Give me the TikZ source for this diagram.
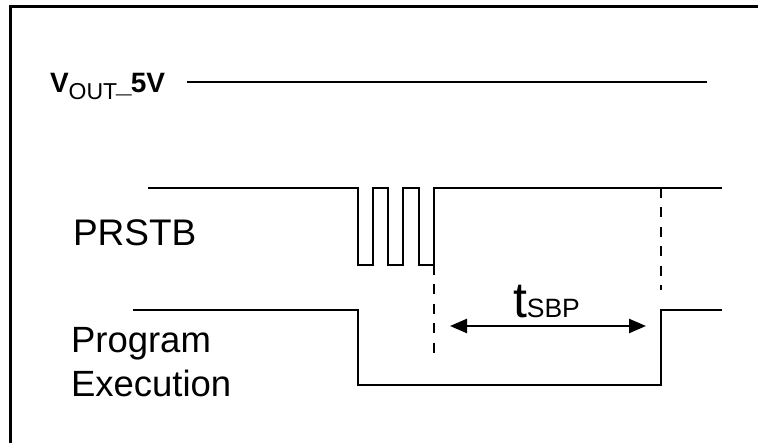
\documentclass[tikz,border=0pt]{standalone}
\usepackage{fontspec}
\setmainfont{Liberation Sans}
\usetikzlibrary{arrows.meta}
\tikzset{
  wave/.style={line width=2.4pt, line join=miter},
  guide/.style={line width=2.4pt, dash pattern=on 10pt off 9.5pt},
  frame/.style={line width=3pt},
  lbl/.style={anchor=base west, inner sep=0pt, outer sep=0pt},
  span/.style={line width=2.4pt, {Triangle[length=17pt,width=14pt]}-{Triangle[length=17pt,width=14pt]}}
}
\begin{document}
\begin{tikzpicture}[x=1pt,y=-1pt]
\useasboundingbox (0,0) rectangle (758,443);
% frame
\draw[frame] (10,443) -- (10,7) -- (758,7);
% labels
\node[lbl] (vout) at (50,93) {\fontsize{28}{28}\selectfont\bfseries V\raisebox{-7pt}{\fontsize{23}{23}\selectfont\mdseries OUT}\kern-1pt\_\kern-1pt5V};
\node[lbl] (prstb) at (73,246) {\fontsize{37}{37}\selectfont PRSTB};
\node[lbl] (prog) at (71,353) {\fontsize{36.5}{36}\selectfont Program};
\node[lbl] (exec) at (71,397) {\fontsize{36.5}{36}\selectfont Execution};
\node[lbl] (tsbp) at (513,318) {\fontsize{50}{50}\selectfont t\fontsize{26.5}{26}\selectfont SBP};
% coordinates
\coordinate (v1) at (187,82);
\coordinate (v2) at (707,82);
\coordinate (d1a) at (434,265);
\coordinate (d1b) at (434,362);
\coordinate (d2a) at (661,188);
\coordinate (d2b) at (661,290);
\coordinate (a1) at (450,326);
\coordinate (a2) at (646,326);
% VOUT
\draw[wave] (v1) -- (v2);
% PRSTB
\draw[wave] (148,188) -- (358,188) -- (358,265) -- (373,265) -- (373,188)
  -- (388,188) -- (388,265) -- (403,265) -- (403,188) -- (419,188)
  -- (419,265) -- (434,265) -- (434,188) -- (722,188);
% Program execution
\draw[wave] (133,310) -- (358,310) -- (358,385) -- (661,385) -- (661,310) -- (722,310);
% guides
\draw[guide] (d1a) -- (d1b);
\draw[guide] (d2a) -- (d2b);
% span arrow
\draw[span] (a1) -- (a2);
\end{tikzpicture}
\end{document}
